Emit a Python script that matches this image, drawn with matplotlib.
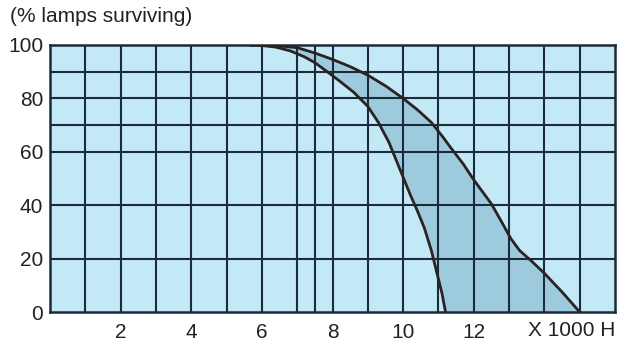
import numpy as np
import matplotlib
matplotlib.use("Agg")
import matplotlib.pyplot as plt

plt.rcParams['font.family'] = ['Liberation Sans', 'DejaVu Sans']

# lamp survival curves (x in 1000 h, y in % surviving)
short_x = [5.7, 6.0, 6.4, 6.8, 7.2, 7.5, 7.9, 8.2, 8.6, 9.0, 9.3, 9.6, 9.8,
           10.0, 10.2, 10.4, 10.6, 10.8, 10.95, 11.1, 11.2]
short_y = [100, 99.8, 99.2, 97.8, 95.6, 93.4, 89.5, 86.5, 82.3, 77.0, 71.0, 63.5, 57.0,
           50.5, 44.0, 38.0, 31.5, 23.0, 15.0, 7.0, 0]
long_x = [5.7, 6.3, 7.0, 7.5, 8.0, 8.5, 9.0, 9.5, 10.0, 10.4, 10.8, 11.1, 11.35,
          11.7, 12.0, 12.25, 12.5, 12.8, 13.05, 13.3, 13.6, 14.0, 14.5, 15.0]
long_y = [100, 99.9, 99.0, 97.0, 94.6, 91.9, 88.7, 84.7, 80.0, 75.8, 71.0, 66.0, 61.5,
          55.5, 49.5, 45.0, 40.5, 33.5, 27.5, 23.0, 19.5, 14.5, 7.5, 0]

x_ticks = [2, 4, 6, 8, 10, 12]
y_ticks = [0, 20, 40, 60, 80, 100]
v_grid = [1, 2, 3, 4, 5, 6, 7, 7.5, 8, 9, 10, 11, 12, 13, 14, 15]
h_grid = [20, 40, 60, 70, 80, 90]

BG = '#c3e9f7'
SHADE = '#9dcbdd'
GRID = '#1b2b3b'
CURVE = '#2b2222'
TXT = '#222222'

fig = plt.figure(figsize=(6.2, 3.44), dpi=100)
ax = fig.add_axes([50 / 620, 32 / 344, 565 / 620, 267 / 344])
ax.set_facecolor(BG)

# shaded band between the two curves
ax.fill(short_x + long_x[::-1], short_y + long_y[::-1], color=SHADE, lw=0, zorder=1)

for v in v_grid:
    ax.axvline(v, color=GRID, lw=1.5, zorder=2)
for h in h_grid:
    ax.axhline(h, color=GRID, lw=1.5, zorder=2)

ax.plot(short_x, short_y, color=CURVE, lw=2.0, zorder=3)
ax.plot(long_x, long_y, color=CURVE, lw=2.0, zorder=3)

ax.set_xlim(0, 16)
ax.set_ylim(0, 100)
ax.set_xticks(x_ticks)
ax.set_yticks(y_ticks)
ax.tick_params(length=0, labelsize=15, colors=TXT)
ax.tick_params(axis='y', pad=5)
ax.tick_params(axis='x', pad=8)
for s in ax.spines.values():
    s.set_color(GRID)
    s.set_linewidth(1.8)

fig.text(10 / 620, 1 - 17 / 344, '(% lamps surviving)', fontsize=15,
         color=TXT, va='center', ha='left')
fig.text(615 / 620, 1 - 330 / 344, 'X 1000 H', fontsize=15,
         color=TXT, ha='right', va='center')

fig.savefig('out.png', dpi=100)
